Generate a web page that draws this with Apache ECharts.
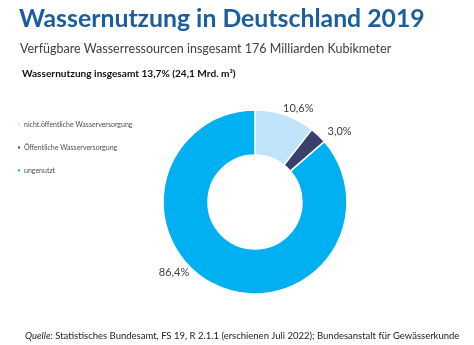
<!DOCTYPE html>
<html>
<head>
<meta charset="utf-8">
<script src="https://cdn.jsdelivr.net/npm/echarts@6/dist/echarts.min.js"></script>
<style>
  html, body { margin: 0; padding: 0; background: #fff; }
  #chart { width: 474px; height: 345px; }
</style>
</head>
<body>
<div id="chart"></div>
<script>
// Anteile an den verfügbaren Wasserressourcen (in %)
const categories = ['nicht.öffentliche Wasserversorgung', 'Öffentliche Wasserversorgung', 'ungenutzt']
const shares = [10.6, 3.0, 86.4]
const colors = ['#bfe4f9', '#3b3f6b', '#00b0f0']

const chart = echarts.init(document.getElementById('chart'))
const font = 'Lato, "Open Sans", sans-serif'

const option = {
  backgroundColor: '#fff',
  textStyle: { fontFamily: font },
  title: [
    {
      text: 'Wassernutzung in Deutschland 2019',
      left: 14, top: 2,
      textStyle: { fontFamily: font, fontSize: 24.8, fontWeight: 'bold', color: '#1b5e9f' }
    },
    {
      text: 'Verfügbare Wasserressourcen insgesamt 176 Milliarden Kubikmeter',
      left: 15, top: 37,
      textStyle: { fontFamily: font, fontSize: 12.5, fontWeight: 'normal', color: '#404040' }
    },
    {
      text: 'Wassernutzung insgesamt 13,7% (24,1 Mrd. m³)',
      left: 17, top: 64,
      textStyle: { fontFamily: font, fontSize: 10.1, fontWeight: 'bold', color: '#111' }
    },
    {
      text: '{i|Quelle}: Statistisches Bundesamt, FS 19, R 2.1.1 (erschienen Juli 2022); Bundesanstalt für Gewässerkunde',
      left: 20, top: 326,
      textStyle: {
        fontFamily: font, fontSize: 9.5, fontWeight: 'normal', color: '#222',
        rich: { i: { fontStyle: 'italic', fontFamily: font, fontSize: 9.5, color: '#222' } }
      }
    }
  ],
  legend: {
    orient: 'vertical',
    left: 11, top: 116,
    icon: 'rect',
    itemWidth: 4, itemHeight: 4,
    itemGap: 16,
    textStyle: { fontFamily: font, fontSize: 7, color: '#4d4d4d', padding: [0, 0, 0, -2] },
    data: categories
  },
  series: [
    {
      type: 'pie',
      center: [255, 202],
      radius: [47, 92],
      startAngle: 90,
      clockwise: true,
      avoidLabelOverlap: false,
      color: colors,
      itemStyle: { borderColor: '#fff', borderWidth: 1.5 },
      label: {
        show: true,
        position: 'outside',
        formatter: p => p.value.toFixed(1).replace('.', ',') + '%',
        fontFamily: font,
        fontSize: 11,
        color: '#404040'
      },
      labelLine: { show: false, length: 6, length2: 0 },
      labelLayout: p => {
        if (p.dataIndex === 2) return { x: 174, y: 272, align: 'center', verticalAlign: 'middle' }
        if (p.dataIndex === 0) return { dx: -9, dy: -1 }
        return {}
      },
      emphasis: { disabled: true },
      data: categories.map((name, i) => ({ name, value: shares[i] }))
    }
  ]
}

chart.setOption(option)
</script>
</body>
</html>
